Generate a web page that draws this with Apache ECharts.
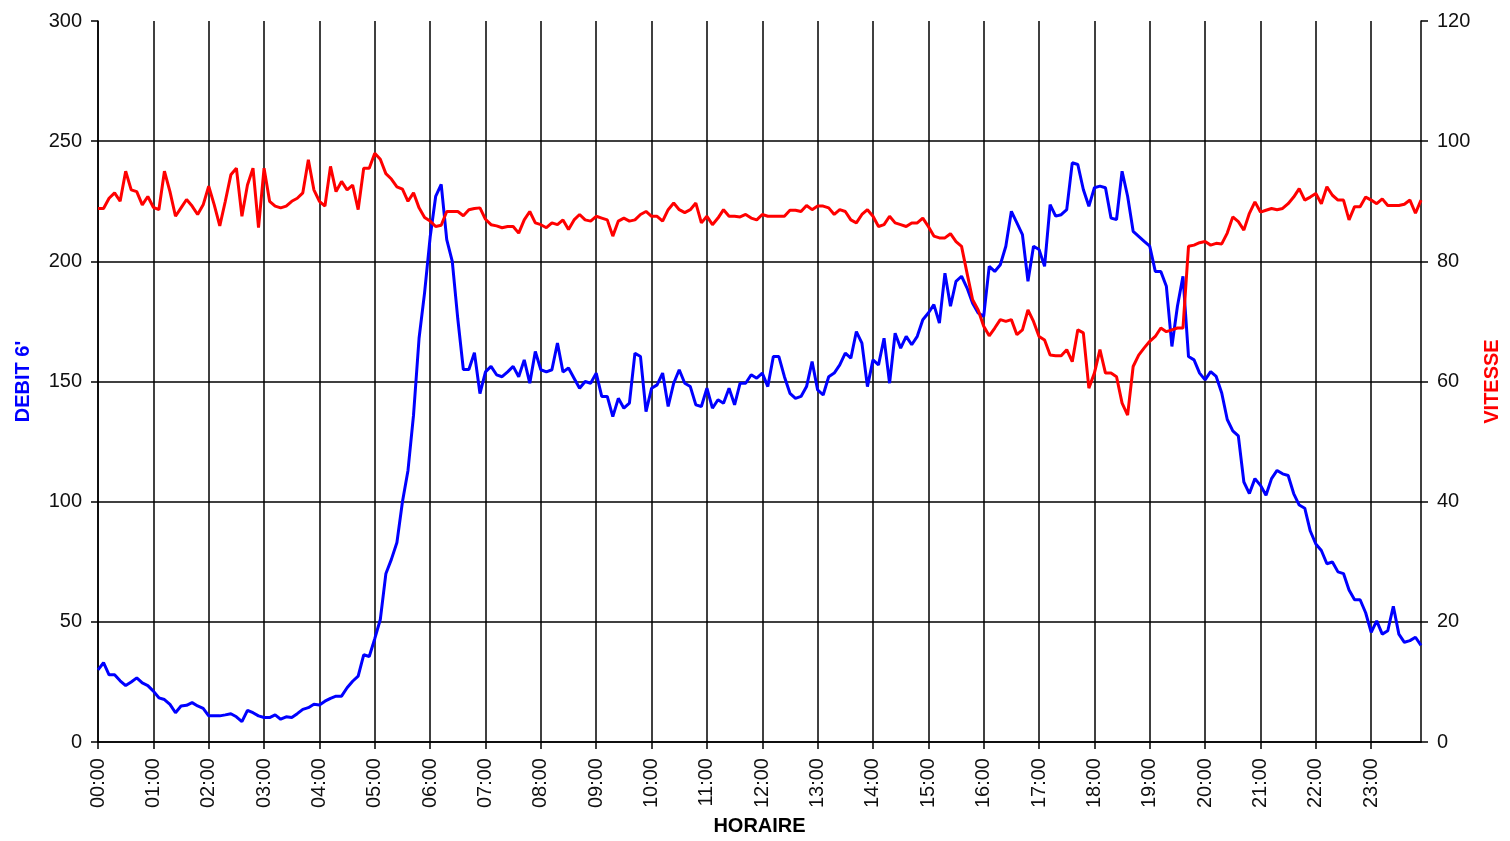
<!DOCTYPE html>
<html>
<head>
<meta charset="utf-8">
<script src="https://cdn.jsdelivr.net/npm/echarts@6/dist/echarts.min.js"></script>
<style>
  html, body { margin: 0; padding: 0; background: #fff; overflow: hidden; }
  #chart { width: 1510px; height: 841px; }
</style>
</head>
<body>
<div id="chart"></div>
<script>
// debit 6' et vitesse, un point toutes les 6 minutes
var horaires = [];
for (var h = 0; h < 24; h++) {
  for (var m = 0; m < 60; m += 6) {
    horaires.push((h < 10 ? '0' + h : '' + h) + ':' + (m < 10 ? '0' + m : '' + m));
  }
}

var debit = [
  30, 33, 28, 28, 25.5, 23.5, 25, 26.7, 24.6, 23.5,
  21.2, 18.4, 17.7, 15.7, 12.2, 15, 15.3, 16.4, 15, 14,
  10.9, 10.9, 10.9, 11.3, 11.8, 10.5, 8.5, 13.2, 12.2, 10.9,
  10.2, 10.2, 11.3, 9.5, 10.5, 10.2, 11.8, 13.6, 14.3, 15.7,
  15.4, 17, 18.2, 19.1, 19.1, 22.6, 25.3, 27.4, 36.3, 35.6,
  43, 51, 70, 76, 83, 100, 113, 136, 168, 187,
  210, 227, 232, 209, 200, 176, 155, 155, 162, 145,
  154, 156.3, 152.8, 152, 154, 156.3, 152, 159, 149.3, 162.5,
  154.9, 154, 154.9, 166, 154, 155.6, 151.4, 147.2, 150, 149.3,
  153.5, 143.8, 143.8, 135.4, 143, 138.9, 141, 161.8, 160.4, 137.5,
  147.2, 148.6, 153.5, 139.6, 149.3, 154.9, 149.3, 147.9, 140.3, 139.6,
  147.2, 138.9, 142.4, 141, 147.2, 140.3, 149.3, 149.3, 152.8, 151.4,
  153.5, 147.9, 160.4, 160.4, 152, 145.1, 143, 143.8, 147.9, 158.3,
  146.5, 144.4, 152, 153.5, 156.9, 161.8, 159.7, 170.8, 166, 147.9,
  159, 156.9, 168, 149.3, 170.1, 163.9, 168.8, 165.3, 168.8, 175.7,
  178.5, 182, 174.3, 195.1, 181.3, 191.7, 193.8, 188.9, 182.6, 178.5,
  177.1, 197.9, 195.8, 198.6, 206.3, 220.8, 216, 211.1, 191.7, 206.3,
  204.9, 197.9, 223.6, 218.8, 219.4, 221.5, 241, 240.3, 229.9, 222.9,
  230.6, 231.3, 230.6, 218, 217.4, 237.5, 227.1, 212.5, 210.4, 208.3,
  206.3, 195.8, 195.8, 189.6, 164.6, 181.3, 193.8, 160.4, 159, 153.5,
  150.7, 154.1, 152.1, 145.2, 134.2, 129.5, 127.4, 108.2, 103.4, 109.6,
  106.8, 102.7, 109.6, 113, 111.6, 110.9, 103.4, 98.6, 97.3, 87.8,
  82.4, 79.7, 74.2, 74.9, 70.8, 70.1, 63.3, 59.2, 59.2, 53.8,
  45.6, 50.4, 44.9, 46.3, 56.5, 44.9, 41.5, 42.2, 43.6, 40.2
];

var vitesse = [
  88.8, 88.8, 90.5, 91.4, 90, 95, 91.9, 91.6, 89.4, 90.8,
  89, 88.6, 95, 91.6, 87.5, 88.9, 90.3, 89.2, 87.8, 89.4,
  92.5, 89.4, 85.9, 90, 94.4, 95.5, 87.5, 92.7, 95.5, 85.6,
  95.5, 90, 89.2, 88.9, 89.2, 90, 90.5, 91.4, 96.9, 91.9,
  90, 89.2, 95.8, 91.6, 93.3, 91.9, 92.7, 88.6, 95.5, 95.5,
  98, 97, 94.6, 93.7, 92.4, 92, 90, 91.4, 88.9, 87.3,
  86.7, 85.8, 86, 88.3, 88.3, 88.3, 87.6, 88.6, 88.8, 88.9,
  87, 86.1, 85.9, 85.6, 85.8, 85.8, 84.7, 86.9, 88.3, 86.4,
  86.1, 85.6, 86.4, 86.1, 86.9, 85.3, 86.9, 87.8, 86.9, 86.7,
  87.5, 87.2, 86.9, 84.2, 86.7, 87.2, 86.7, 86.9, 87.8, 88.3,
  87.5, 87.5, 86.7, 88.6, 89.7, 88.6, 88.1, 88.6, 89.7, 86.4,
  87.5, 86.1, 87.2, 88.6, 87.5, 87.5, 87.4, 87.8, 87.2, 86.9,
  87.8, 87.5, 87.5, 87.5, 87.5, 88.5, 88.5, 88.3, 89.3, 88.6,
  89.2, 89.2, 88.9, 87.8, 88.6, 88.3, 86.9, 86.4, 87.8, 88.6,
  87.5, 85.8, 86.1, 87.5, 86.4, 86.1, 85.8, 86.4, 86.4, 87.2,
  85.8, 84.2, 83.9, 83.9, 84.6, 83.3, 82.5, 78, 73.6, 71.9,
  69.2, 67.6, 68.9, 70.3, 70, 70.3, 67.8, 68.6, 71.9, 70,
  67.5, 66.9, 64.4, 64.3, 64.3, 65.3, 63.3, 68.6, 68.1, 58.9,
  61.4, 65.3, 61.4, 61.4, 60.8, 56.4, 54.4, 62.5, 64.4, 65.6,
  66.7, 67.5, 68.9, 68.3, 68.6, 68.9, 68.9, 82.5, 82.7, 83.1,
  83.3, 82.7, 83, 82.9, 84.7, 87.4, 86.6, 85.2, 88, 89.9,
  88.2, 88.5, 88.8, 88.6, 88.8, 89.6, 90.7, 92.1, 90.2, 90.7,
  91.3, 89.6, 92.4, 91, 90.2, 90.2, 86.9, 89.1, 89.1, 90.7,
  90.2, 89.6, 90.4, 89.3, 89.3, 89.3, 89.5, 90.2, 88, 90.2
];

var myChart = echarts.init(document.getElementById('chart'));
var police = 'Liberation Sans, Arial, sans-serif';
var trait = { color: '#000', width: 1.5 };

var option = {
  backgroundColor: '#fff',
  animation: false,
  grid: { left: 98, right: 79, top: 21, bottom: 93 },
  xAxis: {
    type: 'category',
    data: horaires,
    boundaryGap: false,
    name: 'HORAIRE',
    nameLocation: 'middle',
    nameGap: 72,
    nameTextStyle: { fontFamily: police, fontWeight: 'bold', fontSize: 20, color: '#000', verticalAlign: 'top' },
    axisLine: { show: true, lineStyle: trait },
    axisTick: { show: true, interval: 9, length: 7, lineStyle: trait },
    axisLabel: { interval: 9, rotate: 90, margin: 16, fontFamily: police, fontSize: 20, color: '#111' },
    splitLine: { show: true, interval: 9, lineStyle: trait }
  },
  yAxis: [
    {
      type: 'value',
      min: 0, max: 300, interval: 50,
      name: "DEBIT 6'",
      nameLocation: 'middle',
      nameRotate: 90,
      nameGap: 65,
      nameTextStyle: { fontFamily: police, fontWeight: 'bold', fontSize: 20, color: '#0000ff' },
      axisLine: { show: true, lineStyle: trait },
      axisTick: { show: true, length: 7, lineStyle: trait },
      axisLabel: { margin: 16, fontFamily: police, fontSize: 20, color: '#111' },
      splitLine: { show: true, showMaxLine: false, lineStyle: trait }
    },
    {
      type: 'value',
      min: 0, max: 120, interval: 20,
      name: 'VITESSE',
      nameLocation: 'middle',
      nameRotate: 90,
      nameGap: 61,
      nameTextStyle: { fontFamily: police, fontWeight: 'bold', fontSize: 20, color: '#ff0000' },
      axisLine: { show: true, lineStyle: trait },
      axisTick: { show: true, length: 7, lineStyle: trait },
      axisLabel: { margin: 16, fontFamily: police, fontSize: 20, color: '#111' },
      splitLine: { show: false }
    }
  ],
  series: [
    {
      name: "DEBIT 6'",
      type: 'line',
      data: debit,
      yAxisIndex: 0,
      showSymbol: false,
      lineStyle: { color: '#0000ff', width: 3 },
      itemStyle: { color: '#0000ff' }
    },
    {
      name: 'VITESSE',
      type: 'line',
      data: vitesse,
      yAxisIndex: 1,
      showSymbol: false,
      lineStyle: { color: '#ff0000', width: 3 },
      itemStyle: { color: '#ff0000' }
    }
  ]
};

myChart.setOption(option);
</script>
</body>
</html>
